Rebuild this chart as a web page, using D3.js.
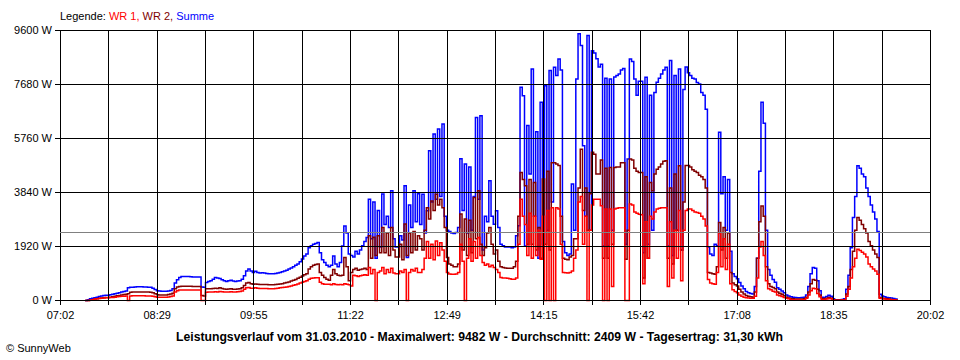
<!DOCTYPE html>
<html><head><meta charset="utf-8">
<script src="https://cdn.jsdelivr.net/npm/d3@7"></script>
<style>
body{margin:0;background:#fff}
svg{display:block}
text{font-family:"Liberation Sans",Arial,sans-serif}
</style>
</head><body>
<svg id="c" width="960" height="360"></svg>
<script>
// ---- data ----
const startMinute = 444;   // 07:24, first sample
const stepMinutes = 2;     // sample interval
const xDomain = [422, 1202];  // 07:02 .. 20:02 in minutes
const xTickLabels = ["07:02","08:29","09:55","11:22","12:49","14:15","15:42","17:08","18:35","20:02"];
const yTicks = [0,1920,3840,5760,7680,9600];
const average = 2409;
const legendItems = ["WR 1","WR 2","Summe"];
const titleText = "Leistungsverlauf vom 31.03.2010 - Maximalwert: 9482 W - Durchschnitt: 2409 W - Tagesertrag: 31,30 kWh";

const summe = [
0,30,60,80,100,120,140,160,175,185,
190,205,220,240,260,280,300,320,340,450,
470,475,480,485,485,485,480,480,475,470,
440,390,350,335,330,330,330,340,360,420,
620,740,820,850,850,850,850,845,840,840,
840,840,480,470,640,680,700,760,820,800,
780,740,700,680,700,720,690,680,690,700,
760,880,1050,1120,1050,1000,1040,1000,980,990,
980,960,950,950,950,960,980,1000,1020,1050,
1080,1120,1160,1200,1250,1300,1380,1480,1580,1650,
1880,1950,2000,2030,2060,1700,1450,1350,1250,1200,
1250,1580,1300,1200,1350,1940,2650,2400,1650,1600,
1550,1750,1650,1800,1950,2100,2240,3600,2200,3500,
1500,3200,1900,3790,2700,3000,2600,3900,2200,1900,
1900,2300,2150,4080,1525,3400,2600,3900,2800,3800,
2700,3780,2400,3190,5325,3500,5920,3600,6100,3700,
6280,3000,2500,2450,2400,2380,2420,2600,5040,3200,
4850,2400,4750,2500,3700,6510,3600,6570,1800,3000,
2800,4257,3000,2714,3190,2600,2000,1950,1900,1900,
1900,1880,1900,2300,2654,7580,7280,1940,6220,4500,
8235,3000,6000,1500,7045,2000,7640,2500,8175,3500,
8290,8000,8590,8200,2100,1700,1600,1650,4140,2500,
7880,9482,9065,5500,3000,9420,2500,8880,8800,8600,
8300,8400,1940,7900,1940,7880,2500,7950,8000,8050,
8200,8250,2000,5030,8590,8500,7880,7300,7800,7800,
1700,7940,2000,7300,2500,7400,7760,7900,8050,8200,
8290,1940,8530,1600,8000,2500,8235,1800,7500,8300,
8100,8000,7900,7880,7750,7700,7400,7300,6800,1900,
1650,1600,2000,1950,5980,3800,4400,2500,4300,1750,
950,850,770,640,520,420,320,280,250,230,
500,1500,4600,7050,6300,2500,1100,900,750,650,
450,400,340,280,200,160,130,120,110,100,
100,110,120,200,500,950,1170,1150,700,350,
120,110,140,190,150,60,30,30,30,40,
60,400,900,1880,2950,3700,4790,4700,4500,4400,
4000,3700,3400,3150,2900,2450,220,160,130,110,
100,90,70,50,0];

const wr1 = [
0,0,10,30,50,60,70,80,90,95,
100,105,110,120,130,140,150,155,160,0,
160,165,165,165,165,165,165,160,160,160,
150,130,120,120,120,120,120,125,140,160,
300,350,370,375,375,375,375,370,370,370,
370,370,0,0,290,300,300,300,310,300,
320,310,300,300,300,310,300,300,310,320,
340,400,450,460,440,440,450,440,430,430,
430,430,420,420,420,430,440,450,460,470,
480,500,520,540,560,590,620,650,680,700,
760,790,800,810,812,650,600,580,577,577,
560,600,570,560,570,560,600,580,560,520,
900,880,850,880,900,920,900,1170,950,1100,
0,1000,1050,1170,950,1100,1000,1150,980,950,
950,1050,1000,1100,0,1000,1100,1050,1150,1000,
1000,1100,1500,2100,1500,2000,1450,2120,1600,2050,
1800,1400,1000,940,930,930,940,1000,2000,1400,
0,1500,2200,1400,2100,1500,2237,1600,1350,1250,
1300,1200,1250,1170,1100,1000,820,800,800,790,
770,760,760,800,2000,3600,3000,2700,1600,3100,
1500,3000,1600,2500,1470,3000,0,3200,0,3300,
0,3300,3250,2000,1000,990,980,1000,1050,1500,
1800,3500,3700,2000,3000,0,2500,3400,3600,3600,
3600,3370,0,3250,0,3250,500,3250,3280,3300,
3300,3300,0,0,3430,3400,3150,3100,3070,3050,
600,2800,1500,3000,2900,3150,3250,3280,3300,3300,
3300,500,2800,800,2500,1500,3200,700,2500,3200,
3250,3250,3200,3150,3130,3100,3000,2900,2650,750,
620,600,580,1000,2400,1200,2200,1100,2000,600,
380,320,280,200,150,120,100,90,80,80,
150,800,1900,2100,1600,700,420,380,330,300,
200,170,140,110,80,60,40,30,20,20,
20,25,30,80,200,350,440,420,250,130,
40,40,50,70,60,20,10,10,10,15,
20,150,400,800,1200,1500,1820,1780,1720,1650,
1550,1300,1200,1120,1050,930,80,60,50,40,
40,30,25,15,0];

const wr2 = [
0,0,10,30,50,65,80,90,100,105,
110,120,135,150,165,180,195,210,225,240,
290,300,305,305,305,305,300,300,300,295,
275,240,205,195,195,195,200,210,230,260,
420,480,500,510,510,510,510,505,500,500,
500,500,180,160,420,420,420,430,440,430,
450,430,410,400,410,420,400,400,410,420,
450,530,620,640,600,580,590,580,570,570,
570,570,560,560,560,570,580,590,600,620,
640,660,690,720,750,790,830,870,920,950,
1120,1200,1250,1280,1300,1000,900,820,760,720,
900,1100,950,900,880,900,1525,1200,700,1000,
1100,1150,1080,1100,1120,1150,1100,2300,1500,2250,
1600,2300,1700,2600,1700,2400,1600,2600,1800,1550,
1550,2000,1450,2720,1600,2400,1700,2450,1800,2300,
2200,1800,2500,3300,2900,3540,3200,3780,3400,3600,
3300,2600,1525,1300,1250,1200,1200,1300,3080,1800,
2900,1600,2850,1700,3660,2200,3900,2000,1600,1880,
2400,2600,2000,1650,1800,1400,1200,1170,1160,1150,
1150,1150,1200,1400,3000,4550,4300,4080,2000,4300,
2000,4200,1800,2600,1500,4320,2000,4600,1800,4900,
4900,4850,4800,3000,1500,1470,1450,1550,1600,2200,
2200,4000,5380,3200,4000,2500,3800,5270,5200,4500,
4500,5000,1500,4700,1500,4730,2000,4730,4750,4750,
4900,4900,1467,2500,5030,5000,4700,4600,4550,4550,
800,4400,1500,4200,3900,4500,4670,4750,4850,4950,
4970,1500,4000,1300,4500,2500,4790,1800,3500,4800,
4800,4750,4650,4600,4550,4450,4400,4300,4000,1000,
980,950,930,1200,2770,1800,2600,1500,2400,1000,
620,560,520,400,300,230,180,150,130,120,
300,1500,2800,3360,3000,1200,600,500,460,420,
300,260,220,170,120,90,70,60,50,50,
50,55,60,120,300,600,750,720,400,200,
70,60,80,110,80,30,15,15,15,20,
30,230,500,1100,1750,2500,2950,2850,2700,2550,
2400,2100,1950,1800,1650,1525,110,80,70,60,
50,40,30,20,0];

// ---- chart ----
const svg = d3.select("#c");
const x = d3.scaleLinear().domain(xDomain).range([60, 930]);
const y = d3.scaleLinear().domain([0, 9600]).range([300, 30]);
const times = summe.map((d, i) => startMinute + i * stepMinutes);

const line = d3.line()
  .x((d, i) => x(times[i]) + 0.5)
  .y(d => y(d) + 0.5)
  .curve(d3.curveStepAfter);

const series = [
  {values: summe, color: "#0000ff"},
  {values: wr2, color: "#800000"},
  {values: wr1, color: "#ff0000"}
];
svg.append("g").selectAll("path").data(series).join("path")
  .attr("d", d => line(d.values))
  .attr("fill", "none")
  .attr("stroke", d => d.color)
  .attr("stroke-width", 1.5)
  .attr("stroke-linejoin", "miter");

// grid / axes drawn on top
const xGrid = d3.range(19).map(k => xDomain[0] + k * (xDomain[1] - xDomain[0]) / 18);
const xAxis = d3.axisBottom(x).tickValues(xGrid).tickSize(275).tickPadding(6)
  .tickFormat((d, i) => i % 2 === 0 ? xTickLabels[i / 2] : "");
const gx = svg.append("g").attr("transform", "translate(0,30)").call(xAxis);
gx.select(".domain").remove();

const yAxis = d3.axisLeft(y).tickValues(yTicks).tickSize(875).tickPadding(3)
  .tickFormat(d => d + " W");
const gy = svg.append("g").attr("transform", "translate(930,0)").call(yAxis);
gy.select(".domain").remove();

[gx, gy].forEach(g => {
  g.attr("font-family", "Liberation Sans, Arial, sans-serif").attr("font-size", 11);
  g.selectAll("line").attr("stroke", "#000").attr("shape-rendering", "crispEdges");
  g.selectAll("text").attr("fill", "#000");
});

svg.append("line")
  .attr("x1", x(xDomain[0])).attr("x2", x(xDomain[1]))
  .attr("y1", y(average) + 0.5).attr("y2", y(average) + 0.5)
  .attr("stroke", "#808080").attr("shape-rendering", "crispEdges");

// legend
const leg = svg.append("text").attr("x", 60).attr("y", 20).attr("font-size", 11);
leg.append("tspan").attr("fill", "#000").text("Legende: ");
leg.append("tspan").attr("fill", "#ff0000").text(legendItems[0] + ", ");
leg.append("tspan").attr("fill", "#800000").text(legendItems[1] + ", ");
leg.append("tspan").attr("fill", "#0000ff").text(legendItems[2]);

svg.append("text").attr("x", 479.5).attr("y", 341).attr("text-anchor", "middle")
  .attr("font-size", 12).attr("font-weight", "bold")
  .attr("textLength", 607).attr("lengthAdjust", "spacingAndGlyphs")
  .text(titleText);

svg.append("text").attr("x", 6).attr("y", 352).attr("font-size", 11).text("© SunnyWeb");
</script>
</body></html>
